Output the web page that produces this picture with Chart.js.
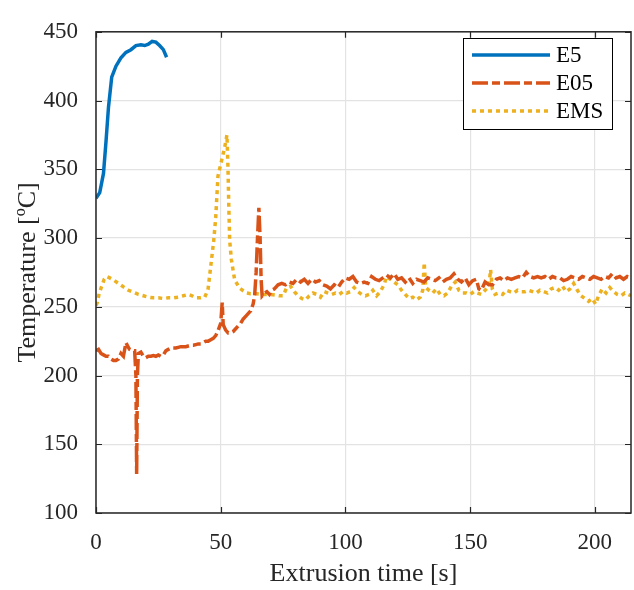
<!DOCTYPE html>
<html>
<head>
<meta charset="utf-8">
<script src="https://cdn.jsdelivr.net/npm/chart.js@4.4.1/dist/chart.umd.min.js"></script>
<style>
  html, body { margin: 0; padding: 0; background: #fff; }
  #wrap { width: 634px; height: 590px; }
</style>
</head>
<body>
<div id="wrap"><canvas id="tempChart" width="634" height="590"></canvas></div>
<script>
// E5 (blue, solid)
const e5Time = [0, 1.5, 3, 4, 5, 6.3, 8, 10, 12, 14, 16, 18, 19.5, 21, 22.5, 24, 25.5, 27, 28.3];
const e5Temp = [329, 333, 347, 370, 395, 417, 425, 431, 435, 437, 440, 440.5, 440, 441, 443, 442.5, 440, 437, 431.5];

// E05 (orange, dash-dot)
const e05Time = [0, 1, 2, 3, 4, 5, 6, 7, 8, 9, 10, 11, 12, 12.8, 13.5, 14.5, 15.5, 16, 16.3, 16.6, 17, 18, 19, 20,
  21, 22, 23, 24, 25, 26, 27, 28, 29, 30, 31, 32, 33, 34, 35, 36, 37, 38, 39, 40, 41, 42, 43, 44, 45, 46, 47, 48,
  49, 50, 50.6, 51, 52, 53, 54, 55, 56, 57, 58, 59, 60, 61, 62, 63, 63.6, 64.2, 64.7, 65.3, 65.8, 66.2, 66.6,
  67.5, 68.5, 69.5, 70.5, 71.5, 73, 74.5, 76, 77.5, 79, 80.5, 82, 83.5, 85, 86.5, 88, 89.5, 91, 92.5, 94, 95.5,
  97, 98.5, 100, 101.5, 103, 104.5, 106, 107.5, 109, 110.5, 112, 113.5, 115, 116.5, 118, 119.5, 121, 122.5, 124,
  125.5, 127, 128.5, 130, 131.5, 133, 134.5, 136, 137.5, 139, 140.5, 142, 143.5, 145, 146.5, 148, 149.5, 151,
  152.5, 153.5, 154.5, 156, 157.5, 159, 160.5, 162, 163.5, 165, 166.5, 168, 169.5, 171, 172.5, 174, 175.5, 177,
  178.5, 180, 181.5, 183, 184.5, 186, 187.5, 189, 190.5, 192, 193.5, 195, 196.5, 198, 199.5, 201, 202.5, 204,
  205.5, 207, 208.5, 210, 211.5, 213, 214.5];
const e05Temp = [218, 219, 216, 215, 214, 214, 212, 211, 211, 212, 216, 214, 224, 221, 219, 218, 218, 200, 128, 200, 216, 217, 214, 213,
  214, 214, 214.5, 214, 215, 214, 215, 218, 219, 220, 220, 220, 220.5, 221, 221, 221, 221.5, 222, 222, 222.5, 223, 223, 224, 225, 225, 226, 227, 229,
  233, 238, 253, 237, 233, 231, 231, 232, 234, 236, 238, 241, 243, 245, 247, 252, 258, 275, 298, 322, 300, 270, 258,
  260, 261, 259, 262, 263, 266, 267, 266, 268, 267, 270, 268, 270, 267, 270, 268, 269, 266, 265, 263, 266,
  264, 268, 271, 270, 272, 268, 267, 268, 267, 272, 270, 269, 271, 273, 271, 274, 270, 271, 268,
  271, 267, 270, 269, 268, 271, 270, 269, 271, 268, 270, 271, 274, 270, 268, 271, 266, 269,
  270, 263, 262, 268, 266, 266, 270, 271, 269, 271, 270, 271, 272, 271, 275, 272, 271, 272,
  271, 272, 270, 272, 271, 271, 269, 270, 272, 271, 270, 272, 271, 270, 272, 271, 270, 272,
  271, 274, 271, 272, 270, 272, 271];

// EMS (yellow, dotted)
const emsTime = [0, 0.5, 1.3, 2.3, 3.3, 4.3, 5.5, 7, 9, 11, 13, 15, 17, 19, 21, 23, 25, 27, 29, 31, 33, 35, 37, 38.5,
  40, 42, 43.6, 44.9, 46.3, 47.2, 48, 48.9, 50.3, 51.6, 52.5, 52.9, 53.3, 53.6, 54.3, 55.6, 57.6, 60.3, 62, 64.3,
  67, 69.6, 72, 73.5, 75, 76.5, 78, 79.5, 81, 82.5, 84, 85.5, 87, 88.5, 90, 91.5, 93, 94.5, 96, 97.5, 99, 100.5,
  102, 103.5, 105, 106.5, 108, 109.5, 111, 112.5, 114, 115.5, 116.5, 118, 119.5, 121, 122.5, 124, 125.5, 127,
  128.5, 130, 131, 131.6, 132.2, 133.5, 135, 136.5, 138, 139.5, 141, 142.5, 144, 145.5, 147, 148.5, 150, 151.5,
  153, 154.5, 156, 157.5, 158.2, 158.9, 160, 161.5, 163, 164.5, 166, 167.5, 169, 170.5, 172, 173.5, 175, 176.5,
  178, 179.5, 181, 182.5, 184, 185.5, 187, 188.5, 190, 191.5, 193, 194.5, 196, 197.5, 199, 200.3, 201.5, 203,
  204.5, 206, 207.5, 209, 210.5, 212, 214.5];
const emsTemp = [251, 253, 260, 265, 270, 272, 271, 269.5, 267, 264.5, 262, 260.5, 259, 258, 257, 256.5, 256.5, 256, 256.5, 256.5, 257, 258, 259, 258,
  256.5, 256.5, 257, 262.5, 284, 298, 315, 345, 356, 366, 375, 352, 319, 298, 284, 269.5, 263.5, 260, 259.5, 259.5,
  259, 259, 258.5, 258, 258, 264, 265, 261, 258, 256, 255, 258, 260, 259, 257, 261, 260, 259, 260, 259, 261, 260,
  261, 264, 261, 259, 258, 259, 262, 258, 261, 266, 272, 270, 268, 266, 262, 259, 256, 257,
  255, 257, 262, 282, 264, 262, 260, 263, 259, 258, 260, 265, 268, 262, 260, 260, 259, 261,
  260, 259, 262, 265, 277, 263, 259, 260, 259, 262, 261, 260, 262, 261, 261, 262, 261, 260,
  262, 261, 260, 263, 264, 262, 265, 261, 263, 267, 262, 258, 256, 254, 256, 252, 258, 263,
  260, 264, 261, 259, 258, 260, 258];

const xTicks = [0, 50, 100, 150, 200];
const yTicks = [100, 150, 200, 250, 300, 350, 400, 450];

const toPoints = (xs, ys) => xs.map((x, i) => ({ x: x, y: ys[i] }));

const FONT = 'Liberation Serif';
const AXIS_COLOR = '#262626';

// MATLAB-style box with inward ticks + boxed legend
const boxPlugin = {
  id: 'boxPlugin',
  afterDraw(chart) {
    const { ctx, chartArea: a, scales } = chart;
    ctx.save();
    ctx.strokeStyle = AXIS_COLOR;
    ctx.lineWidth = 1.5;
    ctx.strokeRect(a.left, a.top, a.right - a.left, a.bottom - a.top);
    ctx.lineWidth = 1.2;
    const tl = 6;
    ctx.beginPath();
    xTicks.forEach(v => {
      const px = Math.round(scales.x.getPixelForValue(v)) + 0.5;
      ctx.moveTo(px, a.bottom); ctx.lineTo(px, a.bottom - tl);
      ctx.moveTo(px, a.top); ctx.lineTo(px, a.top + tl);
    });
    yTicks.forEach(v => {
      const py = Math.round(scales.y.getPixelForValue(v)) + 0.5;
      ctx.moveTo(a.left, py); ctx.lineTo(a.left + tl, py);
      ctx.moveTo(a.right, py); ctx.lineTo(a.right - tl, py);
    });
    ctx.stroke();

    // legend
    const lx = 463, ly = 38, lw = 149, lh = 91;
    ctx.fillStyle = '#fff';
    ctx.fillRect(lx, ly, lw, lh);
    ctx.strokeStyle = '#000';
    ctx.lineWidth = 1;
    ctx.strokeRect(lx + 0.5, ly + 0.5, lw, lh);
    const rows = [55, 83, 111];
    chart.data.datasets.forEach((ds, i) => {
      ctx.beginPath();
      ctx.strokeStyle = ds.borderColor;
      ctx.lineWidth = ds.borderWidth;
      ctx.setLineDash(ds.borderDash || []);
      ctx.moveTo(472, rows[i]); ctx.lineTo(550, rows[i]);
      ctx.stroke();
      ctx.setLineDash([]);
      ctx.fillStyle = '#000';
      ctx.font = '23px "' + FONT + '"';
      ctx.textBaseline = 'middle';
      ctx.textAlign = 'left';
      ctx.fillText(ds.label, 556, rows[i] + 1);
    });
    ctx.restore();
  }
};

new Chart(document.getElementById('tempChart'), {
  type: 'line',
  data: {
    datasets: [
      {
        label: 'E5',
        data: toPoints(e5Time, e5Temp),
        borderColor: '#0072BD',
        borderWidth: 3.5,
        pointRadius: 0,
        tension: 0
      },
      {
        label: 'E05',
        data: toPoints(e05Time, e05Temp),
        borderColor: '#D95319',
        borderWidth: 3.5,
        borderDash: [16, 4, 8, 4],
        pointRadius: 0,
        tension: 0
      },
      {
        label: 'EMS',
        data: toPoints(emsTime, emsTemp),
        borderColor: '#EDB120',
        borderWidth: 3.5,
        borderDash: [4, 4],
        pointRadius: 0,
        tension: 0
      }
    ]
  },
  options: {
    responsive: false,
    devicePixelRatio: 1,
    animation: false,
    layout: { padding: { top: 17, right: 3, left: 0, bottom: 0 } },
    plugins: {
      legend: { display: false },
      tooltip: { enabled: false }
    },
    scales: {
      x: {
        type: 'linear',
        min: 0,
        max: 214.5,
        afterBuildTicks: scale => { scale.ticks = xTicks.map(v => ({ value: v })); },
        afterFit: scale => { scale.height = 77; },
        grid: { color: '#e3e3e3', lineWidth: 1.2, drawTicks: false },
        border: { display: false },
        ticks: {
          padding: 16,
          maxRotation: 0,
          color: AXIS_COLOR,
          font: { family: FONT, size: 23 }
        },
        title: {
          display: true,
          text: 'Extrusion time [s]',
          color: AXIS_COLOR,
          font: { family: FONT, size: 26 },
          padding: { top: 0, bottom: 0 }
        }
      },
      y: {
        min: 100,
        max: 450,
        afterBuildTicks: scale => { scale.ticks = yTicks.map(v => ({ value: v })); },
        afterFit: scale => { scale.width = 96; },
        grid: { color: '#e3e3e3', lineWidth: 1.2, drawTicks: false },
        border: { display: false },
        ticks: {
          padding: 18,
          color: AXIS_COLOR,
          font: { family: FONT, size: 23 }
        },
        title: {
          display: true,
          text: 'Temperature [ºC]',
          color: AXIS_COLOR,
          font: { family: FONT, size: 26 },
          padding: { top: 13, bottom: 0 }
        }
      }
    }
  },
  plugins: [boxPlugin]
});
</script>
</body>
</html>
